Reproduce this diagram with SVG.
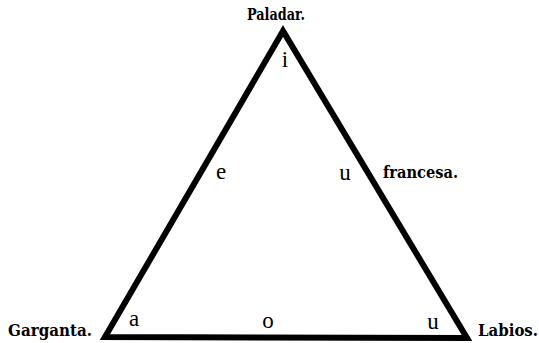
<svg xmlns="http://www.w3.org/2000/svg" width="539" height="343" viewBox="0 0 539 343">
<style>
.lbl{font-family:"DejaVu Serif Condensed","DejaVu Serif",serif;font-weight:bold;font-size:16px;fill:#000}
.v{font-family:"Liberation Serif",serif;font-size:23px;fill:#000}
</style>
<rect width="539" height="343" fill="#fff"/>
<g id="connectors">
<polygon points="283,31 105,337 467,338" fill="none" stroke="#000" stroke-width="6" stroke-linejoin="miter"/>
</g>
<g id="paladar"><text class="lbl" x="247" y="20" textLength="58" lengthAdjust="spacingAndGlyphs">Paladar.</text><text class="v" x="285" y="67" text-anchor="middle">i</text></g>
<g id="garganta"><text class="lbl" x="8" y="336" textLength="84" lengthAdjust="spacingAndGlyphs">Garganta.</text><text class="v" x="134" y="326" text-anchor="middle">a</text></g>
<g id="labios"><text class="lbl" x="478" y="336" textLength="60" lengthAdjust="spacingAndGlyphs">Labios.</text><text class="v" x="433" y="329" text-anchor="middle">u</text></g>
<g id="e"><text class="v" x="221" y="179" text-anchor="middle">e</text></g>
<g id="u-francesa"><text class="v" x="345" y="180" text-anchor="middle">u</text><text class="lbl" x="383" y="178" textLength="75" lengthAdjust="spacingAndGlyphs">francesa.</text></g>
<g id="o"><text class="v" x="268" y="328" text-anchor="middle">o</text></g>
</svg>
